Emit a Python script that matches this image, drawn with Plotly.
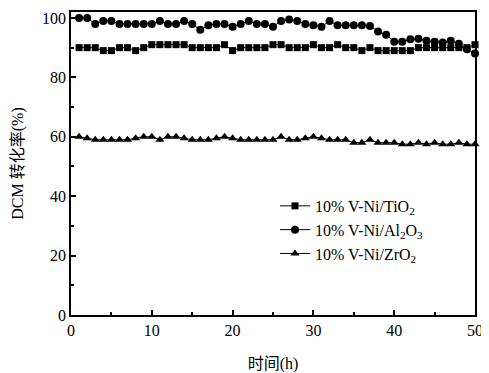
import plotly.graph_objects as go

hours = list(range(1, 51))

tio2 = [90, 90, 90, 89, 89, 90, 90, 89, 90, 91,
        91, 91, 91, 91, 90, 90, 90, 90, 91, 89,
        90, 90, 90, 90, 91, 91, 90, 90, 90, 91,
        90, 90, 91, 90, 90, 89, 90, 89, 89, 89,
        89, 89, 90, 90, 90, 90, 90, 90, 90, 91]

al2o3 = [100, 100, 98, 99, 99, 98, 98, 98, 98, 98,
         99, 98, 98, 99, 98, 96, 97.5, 98, 98, 97,
         98, 99, 98, 98, 97, 99, 99.5, 99, 98, 97.5,
         97, 99, 97.5, 97.5, 97.5, 97.5, 97.3, 95.4, 94.3, 92,
         92, 92.8, 93, 92.3, 92, 91.7, 92.3, 91.3, 89.5, 88]

zro2 = [60, 59.5, 59, 59, 59, 59, 59, 59.5, 60, 60,
        59, 60, 60, 59.5, 59, 59, 59, 59.5, 60, 59.5,
        59, 59, 59, 59, 59, 60, 59, 59, 59.5, 60,
        59.5, 59, 59, 59, 58, 58, 59, 58, 58, 58,
        57.5, 57.5, 58, 57.5, 58, 57.5, 57.5, 58, 57.5, 57.5]

names = ["10% V-Ni/TiO<sub>2</sub>", "10% V-Ni/Al<sub>2</sub>O<sub>3</sub>", "10% V-Ni/ZrO<sub>2</sub>"]
series = [tio2, al2o3, zro2]
symbols = ["square", "circle", "triangle-up"]
sizes = [7, 8, 8]

FONT = "Liberation Serif, Times New Roman, Noto Sans CJK SC, serif"

fig = go.Figure()
for name, ys, sym, sz in zip(names, series, symbols, sizes):
    fig.add_trace(go.Scatter(
        x=hours, y=ys, name=name, mode="lines+markers",
        line=dict(color="black", width=1),
        marker=dict(symbol=sym, size=sz, color="black"),
        cliponaxis=False,
    ))

axis_common = dict(
    showline=True, linecolor="black", linewidth=1.5, mirror=True,
    ticks="inside", ticklen=5, tickwidth=1.5, tickcolor="black",
    showgrid=False, zeroline=False, automargin=False,
    tickfont=dict(family=FONT, size=16, color="black"),
)

# page body has an 8px default margin; compensate so the plot area lands where the reference has it
fig.update_layout(
    width=481, height=365,
    margin=dict(l=63, r=14, t=4, b=58),
    paper_bgcolor="white", plot_bgcolor="white",
    font=dict(family=FONT, size=16, color="black"),
    showlegend=True,
    legend=dict(
        x=0.505, y=0.416, xanchor="left", yanchor="top",
        bgcolor="rgba(0,0,0,0)", borderwidth=0,
        font=dict(family=FONT, size=16, color="black"),
        tracegroupgap=0, itemsizing="trace",
    ),
    xaxis=dict(
        range=[0, 50], tickvals=[0, 10, 20, 30, 40, 50],
        minor=dict(tickvals=[5, 15, 25, 35, 45], ticks="inside", ticklen=3, tickcolor="black"),
        title=dict(text="时间(h)", font=dict(family=FONT, size=16), standoff=20),
        **axis_common,
    ),
    yaxis=dict(
        range=[0, 102], tickvals=[0, 20, 40, 60, 80, 100],
        minor=dict(tickvals=[10, 30, 50, 70, 90], ticks="inside", ticklen=3, tickcolor="black"),
        title=dict(text="DCM 转化率(%)", font=dict(family=FONT, size=16), standoff=14),
        **axis_common,
    ),
)

fig.write_html("out.html")
